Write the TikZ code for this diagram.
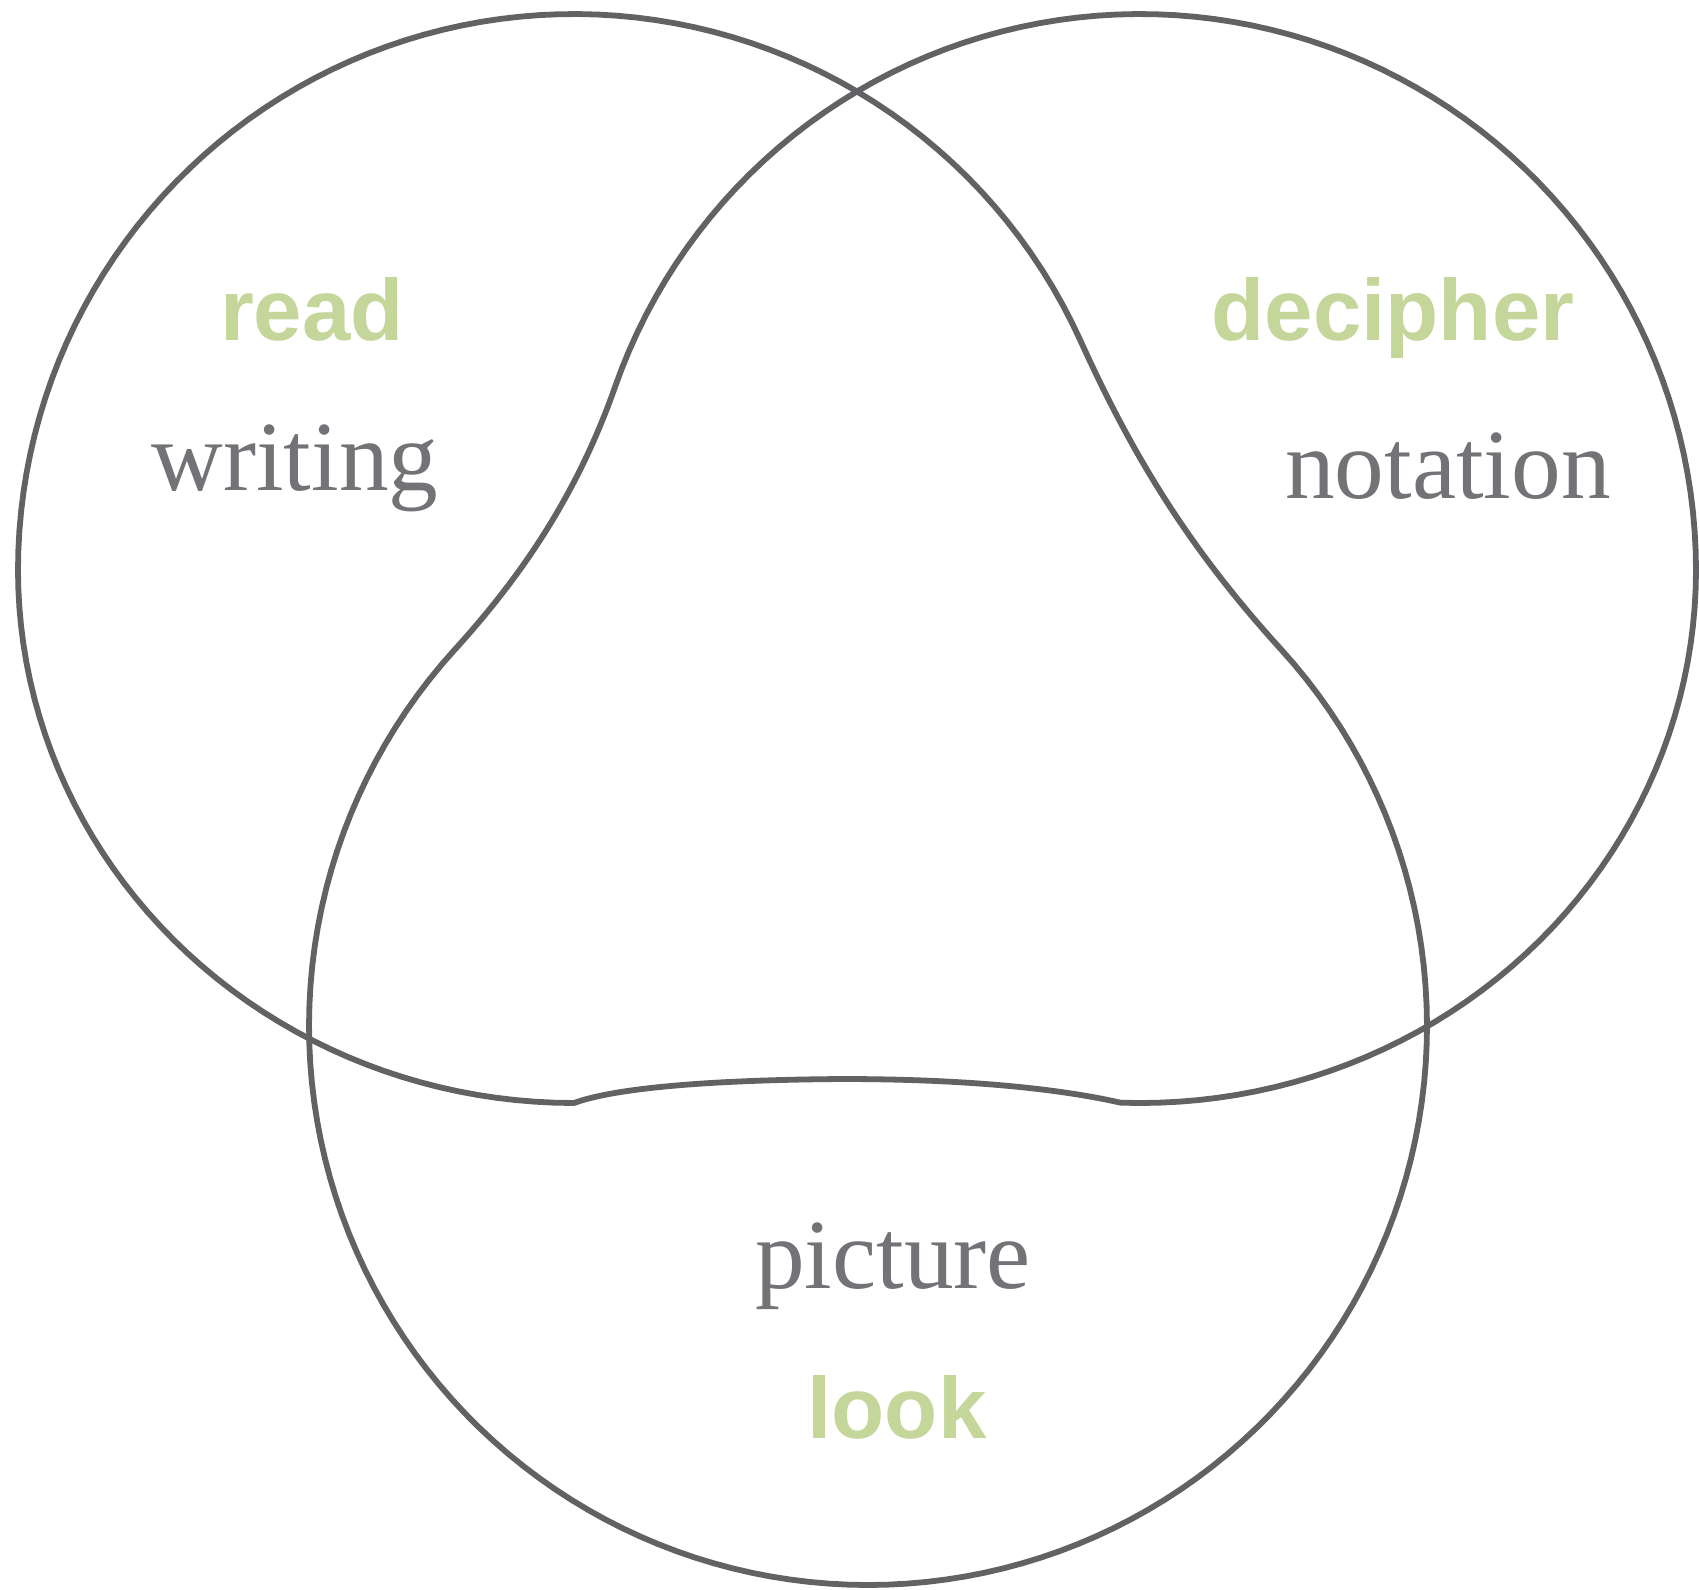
\documentclass[tikz,border=0pt]{standalone}
\usepackage{fontspec}
\newfontfamily\labelsans{Liberation Sans}
\newfontfamily\labelserif{Liberation Serif}
\definecolor{linegray}{RGB}{98,97,100}
\definecolor{softgreen}{RGB}{196,214,154}
\definecolor{textgray}{RGB}{115,115,119}
\tikzset{
  outline/.style={draw=linegray, line width=3.3pt, line join=round},
  greenlabel/.style={anchor=base, inner sep=0pt, text=softgreen,
    font=\labelsans\bfseries\fontsize{49.5}{52}\selectfont},
  graylabel/.style={anchor=base, inner sep=0pt, text=textgray,
    font=\labelserif\fontsize{56.5}{60}\selectfont}
}
\begin{document}
\begin{tikzpicture}[x=0.2mm,y=-0.2mm]
\useasboundingbox (0,0) rectangle (1699,1589);
\fill[white] (0,0) rectangle (1699,1589);
% one closed curve: left lobe, wave, right lobe, pear-shaped lower lobe
\coordinate (top) at (857,91.5);
\draw[outline] (top)
  -- plot[domain=-59.4:-180, samples=61, variable=\t] ({574+556*cos(\t)},{570+556*sin(\t)})
  -- plot[domain=180:90, samples=46, variable=\t] ({574+556*cos(\t)},{570+533*sin(\t)})
  .. controls (612,1089) and (700,1080) .. (842,1079)
  .. controls (975,1079) and (1065,1090) .. (1120.6,1102.7)
  -- plot[domain=92:0, samples=47, variable=\t] ({1140+556*cos(\t)},{570+533*sin(\t)})
  -- plot[domain=0:-160.7, samples=81, variable=\t] ({1140+556*cos(\t)},{570+556*sin(\t)})
  .. controls (579.5,488.1) and (527.3,569.9) .. (454.6,649.8)
  -- plot[domain=222.3:-42.3, samples=133, variable=\t] ({868+559*cos(\t)},{1026+559*sin(\t)})
  .. controls (1191.9,551.4) and (1135.2,461.4) .. (1080.3,340.3)
  -- plot[domain=-24.4:-59.4, samples=18, variable=\t] ({574+556*cos(\t)},{570+556*sin(\t)})
  -- cycle;
\node[greenlabel] (read) at (312,340) {read};
\node[greenlabel] (decipher) at (1393,340) {decipher};
\node[greenlabel] (look) at (897,1438) {look};
\node[graylabel] (writing) at (295,490) {writing};
\node[graylabel] (notation) at (1448,498) {notation};
\node[graylabel] (picture) at (893,1288) {picture};
\end{tikzpicture}
\end{document}
